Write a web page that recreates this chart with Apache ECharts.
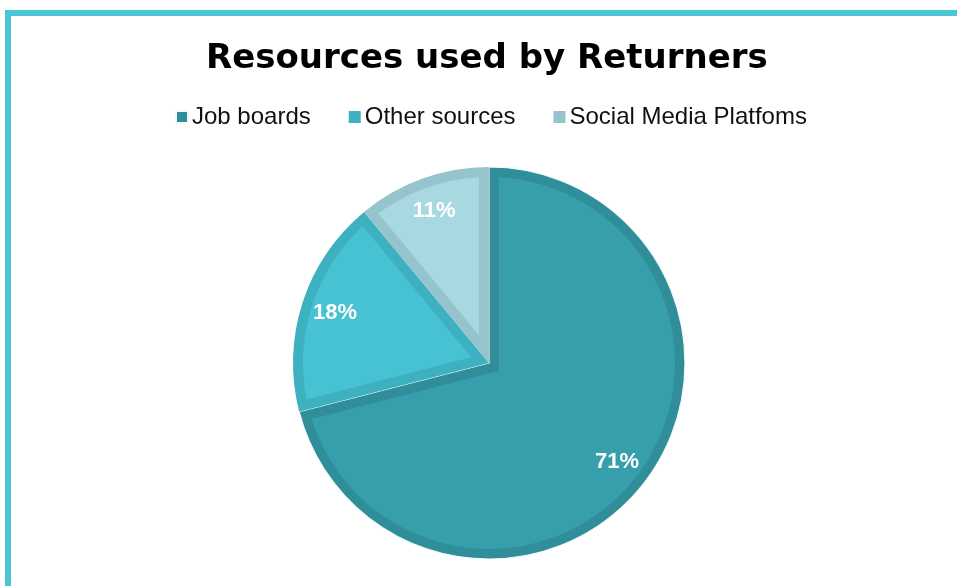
<!DOCTYPE html>
<html>
<head>
<meta charset="utf-8">
<script src="https://cdn.jsdelivr.net/npm/echarts@6/dist/echarts.min.js"></script>
<style>
  html, body { margin: 0; padding: 0; background: #ffffff; overflow: hidden; }
  #frame {
    position: absolute; left: 5px; top: 10px; width: 2000px; height: 2000px;
    border-left: 6px solid #4bc4d4; border-top: 6px solid #4bc4d4;
  }
  #chart { position: absolute; left: 0; top: 0; width: 957px; height: 586px; }
</style>
</head>
<body>
<div id="frame"></div>
<div id="chart"></div>
<script>
// Share of resources used by returners
const categories = ['Job boards', 'Other sources', 'Social Media Platfoms'];
const shares = [71, 18, 11];
const percentLabels = ['71%', '18%', '11%'];

// Slice colours: rim (edge band) and face (inner fill)
const rimColors = ['#2f8e99', '#3eb1c1', '#95c4cc'];
const faceColors = ['#379fab', '#46c2d2', '#a8d9e1'];

const CX = 489, CY = 363, R = 196, RIM = 10;

const chart = echarts.init(document.getElementById('chart'), null, { renderer: 'canvas' });

// The largest slice is set off from its neighbours by a thin light outline
const pieData = categories.map((name, i) => ({
  name,
  value: shares[i],
  itemStyle: i === 0
    ? { color: rimColors[i], borderColor: '#f2fafb', borderWidth: 1.2 }
    : { color: rimColors[i], borderWidth: 0 }
}));

// Inner face of a slice: the sector inset by RIM from its arc and both radial edges
function faceShape(a0, a1) {
  const dir = a => [Math.sin(a), -Math.cos(a)];
  const n1 = dir(a0 + Math.PI / 2);
  const n2 = dir(a1 - Math.PI / 2);
  const det = n1[0] * n2[1] - n1[1] * n2[0];
  const px = RIM * (n2[1] - n1[1]) / det;
  const py = RIM * (n1[0] - n2[0]) / det;
  const rIn = R - RIM;
  const off = Math.asin(RIM / rIn);
  const s = a0 + off, e = a1 - off;
  const pts = [[CX + px, CY + py]];
  const steps = 80;
  for (let k = 0; k <= steps; k++) {
    const a = s + (e - s) * k / steps;
    pts.push([CX + rIn * Math.sin(a), CY - rIn * Math.cos(a)]);
  }
  return pts;
}

const total = shares.reduce((a, b) => a + b, 0);

chart.setOption({
  animation: false,
  title: {
    text: 'Resources used by Returners',
    left: 201,
    top: 37,
    textStyle: {
      fontFamily: 'DejaVu Sans',
      fontWeight: 'bold',
      fontSize: 34,
      color: '#000000'
    }
  },
  legend: {
    data: categories,
    left: 170,
    top: 100,
    icon: 'rect',
    itemWidth: 12,
    itemHeight: 12,
    itemGap: 38,
    textStyle: {
      fontFamily: 'Liberation Sans',
      fontSize: 24,
      color: '#111111',
      padding: [0, 0, 0, -1]
    }
  },
  series: [
    {
      type: 'pie',
      name: 'rim',
      center: [CX, CY],
      radius: [0, R],
      startAngle: 90,
      clockwise: true,
      z: 2,
      silent: true,
      label: { show: false },
      labelLine: { show: false },
      emphasis: { disabled: true },
      data: pieData
    },
    {
      type: 'custom',
      name: 'face',
      coordinateSystem: 'none',
      z: 3,
      silent: true,
      data: shares,
      renderItem: function (params, api) {
        const idx = params.dataIndex;
        let before = 0;
        for (let j = 0; j < idx; j++) before += shares[j];
        const a0 = before / total * Math.PI * 2;
        const a1 = (before + api.value(0)) / total * Math.PI * 2;
        return {
          type: 'polygon',
          shape: { points: faceShape(a0, a1) },
          style: { fill: faceColors[idx] }
        };
      }
    },
    {
      type: 'pie',
      name: 'labels',
      center: [CX, CY],
      radius: [122, R],
      startAngle: 90,
      clockwise: true,
      z: 10,
      silent: true,
      itemStyle: { color: 'rgba(0,0,0,0)' },
      emphasis: { disabled: true },
      labelLine: { show: false },
      label: {
        show: true,
        position: 'inside',
        color: '#ffffff',
        fontFamily: 'Liberation Sans',
        fontWeight: 'bold',
        fontSize: 22,
        formatter: p => percentLabels[p.dataIndex]
      },
      data: categories.map((name, i) => ({ name, value: shares[i] }))
    }
  ]
});
</script>
</body>
</html>
